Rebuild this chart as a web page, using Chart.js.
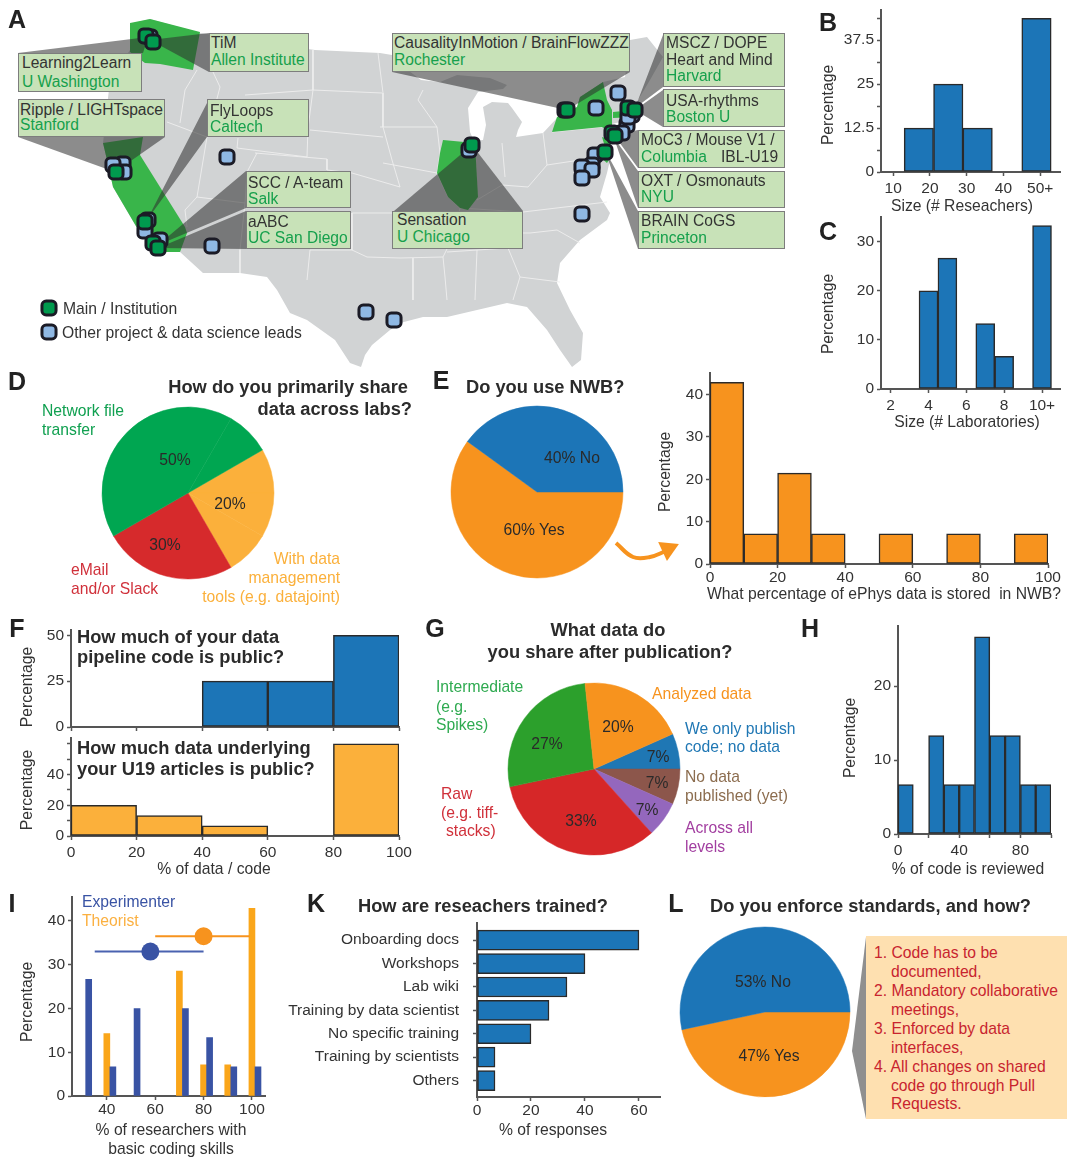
<!DOCTYPE html>
<html>
<head>
<meta charset="utf-8">
<title>U19 survey</title>
<script src="https://cdn.jsdelivr.net/npm/chart.js@4/dist/chart.umd.min.js"></script>
<style>
  html, body { margin: 0; padding: 0; background: #fff; }
  #page { position: relative; width: 1080px; height: 1171px; overflow: hidden; font-family: "Liberation Sans", Arial, sans-serif; filter: blur(0.35px); }
  #page canvas { position: absolute; }
  .t { position: absolute; white-space: pre; line-height: 1; color: #333; }
  .box { position: absolute; box-sizing: border-box; background: #c8e2b8; border: 1.5px solid #7d7d7d; }
</style>
</head>
<body>
<div id="page"></div>
<script>
// Panel B - team size in researchers
const researcherBins = [17, 25, 33, 41, 49];
const researcherPct = [12.5, 25, 12.5, 0, 43.75];
// Panel C - team size in laboratories
const labBins = [4, 5, 7, 8, 10];
const labPct = [20, 26.67, 13.33, 6.67, 33.33];
// Panel D - sharing across labs (slices as drawn, in degrees)
const shareSlices = [30, 30, 30, 90, 150, 30];
// Panel E - NWB use
const nwbPie = [60, 40];
const nwbBins = [5, 15, 25, 35, 45, 55, 65, 75, 85, 95];
const nwbPct = [42.86, 7.14, 21.43, 7.14, 0, 7.14, 0, 7.14, 0, 7.14];
// Panel F - public code and data
const publicBins = [50, 70, 90];
const publicCodePct = [25, 25, 50];
const publicDataBins = [10, 30, 50, 90];
const publicDataPct = [20, 13.33, 6.67, 60];
// Panel G - what is shared (only code, none yet, all levels, raw, intermediate, analyzed)
const sharedPct = [6.67, 6.67, 6.67, 33.33, 26.67, 20];
// Panel H - reviewed code
const reviewBins = [5, 15, 25, 35, 45, 55, 65, 75, 85, 95];
const reviewPct = [6.67, 0, 13.33, 6.67, 6.67, 26.67, 13.33, 13.33, 6.67, 6.67];
// Panel I - coding skills
const experimenterX = [32.5, 42.5, 52.5, 72.5, 82.5, 92.5, 102.5];
const experimenterPct = [26.67, 6.67, 20, 20, 13.33, 6.67, 6.67];
const theoristX = [40, 70, 80, 90, 100];
const theoristPct = [14.29, 28.57, 7.14, 7.14, 42.86];
const experimenterRange = [35, 80];
const experimenterMean = 58;
const theoristRange = [60, 99];
const theoristMean = 80;
// Panel K - training
const trainingNames = ['Onboarding docs', 'Workshops', 'Lab wiki', 'Training by data scientist', 'No specific training', 'Training by scientists', 'Others'];
const trainingPct = [60, 40, 33.33, 26.67, 20, 6.67, 6.67];
// Panel L - standards
const standardsPie = [46.67, 53.33];

// Panel A - map
const landOutline = [[130,24],[150,19],[200,33],[260,42],[315,50],[380,53],[392,55],[405,68],[421,80],[440,82],[457,75],[490,78],[507,85],[503,89],[478,92],[468,108],[470,132],[474,141],[483,140],[486,125],[483,107],[492,102],[508,103],[512,108],[522,122],[518,130],[516,137],[543,133],[557,118],[577,107],[580,97],[603,82],[625,77],[630,40],[647,37],[663,57],[650,80],[638,100],[640,112],[644,116],[628,120],[612,124],[612,137],[610,160],[607,173],[600,197],[610,213],[607,220],[580,240],[560,263],[557,283],[570,310],[583,333],[581,360],[572,367],[560,350],[547,330],[527,307],[507,303],[477,310],[447,317],[423,317],[400,323],[390,330],[372,345],[365,355],[361,367],[350,363],[335,340],[307,320],[290,313],[277,290],[267,277],[240,273],[203,273],[180,252],[157,252],[140,233],[113,187],[107,160],[103,143],[110,80],[130,50]];
const washington = [[130,23],[150,19],[200,32],[193,70],[160,64],[145,63],[130,52]];
const california = [[103,143],[143,137],[140,155],[185,227],[187,233],[180,252],[157,252],[140,233],[113,187],[107,160]];
const illinois = [[443,140],[475,143],[478,197],[468,210],[460,208],[448,197],[437,173],[440,153]];
const newYork = [[552,132],[557,117],[577,107],[580,97],[603,82],[607,100],[612,110],[612,127],[612,133],[602,127]];
const newJersey = [[602,137],[610,140],[612,155],[607,163],[600,157],[605,147]];
const connecticut = [[613,112],[633,110],[635,117],[613,118]];
const stateBorders = [
  [[197,70],[185,90],[180,123]], [[167,122],[207,137],[197,197],[185,210],[187,227]], [[213,72],[220,87],[207,137]],
  [[245,95],[313,90],[382,93]], [[313,50],[313,90],[308,128],[307,157]], [[378,53],[383,93],[383,127],[392,160],[400,187]],
  [[238,138],[237,148],[307,157]], [[310,130],[383,137]], [[257,153],[247,172],[245,203],[240,250],[240,273]],
  [[255,153],[327,159],[327,170],[352,173],[400,187]], [[197,197],[245,203]], [[352,213],[393,213],[455,213]],
  [[310,250],[307,280]], [[352,250],[367,257],[400,258],[443,257]], [[352,213],[352,250]], [[310,250],[352,250]],
  [[380,127],[437,127]], [[383,163],[437,173]], [[423,90],[418,100],[437,127],[440,153],[437,173],[448,197],[460,208],[455,233],[443,257],[445,277],[447,300]],
  [[475,143],[477,200]], [[502,143],[505,177]], [[477,200],[502,185],[528,187],[547,165]], [[543,133],[547,165]], [[547,165],[600,157]],
  [[552,132],[602,127]], [[523,212],[607,202]], [[460,208],[523,212]], [[447,252],[508,248]], [[530,233],[557,230],[580,243]],
  [[508,248],[520,277],[560,282]], [[477,250],[475,300]], [[393,248],[443,243]], [[413,258],[413,300]], [[520,277],[513,300]], [[455,233],[530,233]]
];
const wedges = [
  [[18,53],[148,37],[143,53]], [[150,40],[209,33],[209,72]], [[18,137],[165,137],[115,172]],
  [[207,103],[207,137],[147,220]], [[246,171],[246,208],[158,245]], [[246,211],[246,249],[158,248]],
  [[392,72],[630,72],[567,110]], [[394,211],[523,211],[472,145]], [[663,35],[663,87],[635,108]],
  [[663,90],[663,127],[635,110]], [[638,130],[638,168],[614,135]], [[638,171],[638,208],[614,138]],
  [[638,211],[638,249],[605,150]]
];
const otherLeads = [[150,37],[123,164],[113,165],[124,172],[148,220],[145,231],[160,240],[227,157],[212,246],[366,312],[394,320],[469,150],[565,110],[596,108],[618,93],[627,125],[632,115],[628,117],[622,133],[595,155],[592,165],[582,167],[592,170],[582,178],[582,214]];
const mainSites = [[146,36],[153,42],[116,172],[145,222],[153,243],[158,248],[472,145],[567,110],[628,108],[635,110],[612,133],[615,136],[605,152]];
const legendMain = [[49,308]];
const legendOther = [[49,332]];
// Arrow from pie E to its histogram, and wedge of panel L
const arrowCurve = [[616,543],[633,557],[650,557],[666,551]];
const arrowHead = [[668,549]];
const standardsWedge = [[866,937],[852,1051],[866,1119]];

const INK = '#333';
const AXIS = '#555';
const EDGE = '#2a2a2a';
const BLUE = '#1c75b7';
const ORANGE = '#f7931e';
const LIGHT_ORANGE = '#fbb03b';

Chart.defaults.font.family = '"Liberation Sans", Arial, sans-serif';
Chart.defaults.font.size = 15.5;
Chart.defaults.color = INK;
Chart.defaults.animation = false;
Chart.defaults.layout.autoPadding = false;
Chart.defaults.plugins.legend.display = false;
Chart.defaults.plugins.tooltip.enabled = false;

const page = document.getElementById('page');

function addCanvas(left, top, width, height) {
  const canvas = document.createElement('canvas');
  canvas.width = width;
  canvas.height = height;
  canvas.style.left = left + 'px';
  canvas.style.top = top + 'px';
  page.appendChild(canvas);
  return canvas;
}

// y is the vertical centre of the text; align is left, right or center
function text(x, y, str, opts = {}) {
  const el = document.createElement('div');
  el.className = 't';
  el.textContent = str;
  el.style.left = x + 'px';
  el.style.top = y + 'px';
  el.style.fontSize = (opts.size || 15.7) + 'px';
  el.style.color = opts.color || INK;
  if (opts.bold) el.style.fontWeight = 'bold';
  let shift = opts.align === 'right' ? '-100%' : opts.align === 'center' ? '-50%' : '0';
  el.style.transform = `translate(${shift}, -50%)`;
  page.appendChild(el);
}

const panel = (x, y, str) => text(x, y, str, { size: 25, bold: true, color: '#222', align: 'center' });
const title = (x, y, str, align) => text(x, y, str, { size: 18.3, bold: true, color: '#2b2b2b', align });

// fixed even box so the rotation lands on whole pixels
function ylabel(x, y) {
  const el = document.createElement('div');
  el.className = 't';
  el.textContent = 'Percentage';
  el.style.cssText += `left:${x - 50}px;top:${y - 10}px;width:100px;height:20px;line-height:20px;text-align:center;font-size:15.7px;transform:rotate(-90deg);`;
  page.appendChild(el);
}

function pie(cx, cy, r, values, colors, rotation) {
  new Chart(addCanvas(cx - r - 1, cy - r - 1, 2 * r + 2, 2 * r + 2), {
    type: 'pie',
    data: { datasets: [{ data: values, backgroundColor: colors, borderColor: colors, borderWidth: 0.5 }] },
    options: { responsive: false, rotation, radius: r, layout: { padding: 0 } }
  });
}

// Linear axis that shows only the ticks it is given
function axis(a, fit) {
  return {
    type: 'linear', min: a.min, max: a.max, reverse: !!a.reverse, offset: false,
    afterBuildTicks: s => { s.ticks = a.ticks.map(v => ({ value: v })); },
    afterFit: fit,
    grid: { drawOnChartArea: false, offset: false, tickLength: 4, tickColor: AXIS, tickWidth: 1.5 },
    border: { display: true, color: AXIS, width: 2 },
    ticks: { autoSkip: false, maxRotation: 0, padding: a.padding ?? 3, color: INK, callback: a.label || (v => v) }
  };
}

// box holds the page position of the plot area
function plot(box, datasets, xa, ya, margin = 44) {
  const top = 12, right = 24, bottom = 28;
  const canvas = addCanvas(box[0] - margin, box[1] - top, box[2] - box[0] + margin + right, box[3] - box[1] + top + bottom);
  return new Chart(canvas, {
    type: 'bar',
    data: { datasets },
    options: {
      responsive: false,
      indexAxis: xa.horizontal ? 'y' : 'x',
      layout: { padding: { top, right } },
      scales: {
        x: axis(xa, s => { s.height = bottom; }),
        y: axis(ya, s => { s.width = margin; })
      }
    }
  });
}

const xy = (xs, ys) => xs.map((x, i) => ({ x, y: ys[i] }));

function histogram(bins, values, color) {
  return [{ data: xy(bins, values), backgroundColor: color, borderColor: EDGE, borderWidth: 1.5, borderSkipped: false, barPercentage: 1, categoryPercentage: 1 }];
}

// ---- Panel A and the freehand bits, all on one chart with a page-sized scale
function polygon(points, color) {
  return { data: points.map(([x, y]) => ({ x, y })), showLine: true, fill: 'shape', backgroundColor: color, borderWidth: 0, pointRadius: 0, tension: 0 };
}
function polyline(points, color, width, tension = 0) {
  return { data: points.map(([x, y]) => ({ x, y })), showLine: true, fill: false, borderColor: color, borderWidth: width, pointRadius: 0, tension };
}
function markers(points, color) {
  return { data: points.map(([x, y]) => ({ x, y })), pointStyle: 'rectRounded', pointRadius: 8.2, backgroundColor: color, borderColor: '#1b1b26', borderWidth: 3 };
}

const GREEN_STATE = '#39b54a';
const layers = [
  polygon(landOutline, '#d1d3d4'),
  ...stateBorders.map(line => polyline(line, '#eeeeee', 0.9)),
  ...[washington, california, illinois, newYork, newJersey, connecticut].map(s => polygon(s, GREEN_STATE)),
  ...wedges.map(w => polygon(w, 'rgba(45,45,45,0.55)')),
  markers(otherLeads, '#8fb8e4'),
  markers(mainSites, '#009a4e'),
  markers(legendMain, '#009a4e'),
  markers(legendOther, '#8fb8e4'),
  polyline(arrowCurve, ORANGE, 4, 0.4),
  { data: arrowHead.map(([x, y]) => ({ x, y })), pointStyle: 'triangle', pointRadius: 12, rotation: 65, backgroundColor: ORANGE, borderWidth: 0 },
  polygon(standardsWedge, '#8f8f8f')
];

new Chart(addCanvas(0, 0, 1080, 1171), {
  type: 'scatter',
  data: { datasets: layers.reverse() },
  options: {
    responsive: false,
    layout: { padding: 0 },
    scales: {
      x: { type: 'linear', min: 0, max: 1080, display: false },
      y: { type: 'linear', min: 0, max: 1171, reverse: true, display: false }
    }
  }
});

function callout(left, top, right, bottom, textX, rows) {
  const el = document.createElement('div');
  el.className = 'box';
  el.style.left = left + 'px';
  el.style.top = top + 'px';
  el.style.width = (right - left) + 'px';
  el.style.height = (bottom - top) + 'px';
  page.appendChild(el);
  rows.forEach(([y, str, isInstitute]) => text(textX, y, str, { size: 15.6, color: isInstitute ? '#16a04c' : '#333' }));
}

callout(18, 53, 142, 92, 22, [[63, 'Learning2Learn'], [82, 'U Washington', 1]]);
callout(18, 99, 165, 137, 20, [[110, 'Ripple / LIGHTspace'], [125, 'Stanford', 1]]);
callout(209, 33, 309, 72, 211, [[43, 'TiM'], [60, 'Allen Institute', 1]]);
callout(207, 99, 309, 137, 210, [[111, 'FlyLoops'], [127, 'Caltech', 1]]);
callout(246, 171, 351, 208, 248, [[183, 'SCC / A-team'], [199, 'Salk', 1]]);
callout(246, 211, 351, 249, 248, [[222, 'aABC'], [238, 'UC San Diego', 1]]);
callout(392, 33, 630, 72, 394, [[43, 'CausalityInMotion / BrainFlowZZZ'], [60, 'Rochester', 1]]);
callout(392, 211, 523, 249, 397, [[220, 'Sensation'], [237, 'U Chicago', 1]]);
callout(663, 33, 785, 87, 666, [[43, 'MSCZ / DOPE'], [60, 'Heart and Mind'], [76, 'Harvard', 1]]);
callout(663, 89, 785, 127, 666, [[101, 'USA-rhythms'], [117, 'Boston U', 1]]);
callout(638, 130, 785, 168, 641, [[140, 'MoC3 / Mouse V1 /'], [157, 'Columbia', 1]]);
text(721, 157, 'IBL-U19', { size: 15.6 });
callout(638, 171, 785, 208, 641, [[181, 'OXT / Osmonauts'], [197, 'NYU', 1]]);
callout(638, 211, 785, 249, 641, [[221, 'BRAIN CoGS'], [238, 'Princeton', 1]]);
panel(17, 19, 'A');
text(63, 309, 'Main / Institution');
text(62, 333, 'Other project & data science leads');

// ---- Panel B
panel(828, 22, 'B');
plot([881, 10, 1060, 172], histogram(researcherBins, researcherPct, BLUE),
  { min: 6.7, max: 55.4, ticks: [10, 20, 30, 40, 50], label: v => (v === 50 ? '50+' : v) },
  { min: 0, max: 46, ticks: [0, 6.25, 12.5, 18.75, 25, 31.25, 37.5, 43.75], label: v => (v % 12.5 === 0 ? v : '') });
ylabel(828, 105);
text(962, 206, 'Size (# Reseachers)', { align: 'center' });

// ---- Panel C
panel(828, 231, 'C');
plot([881, 217, 1060, 389], histogram(labBins, labPct, BLUE),
  { min: 1.49, max: 10.95, ticks: [2, 4, 6, 8, 10], label: v => (v === 10 ? '10+' : v) },
  { min: 0, max: 35, ticks: [0, 10, 20, 30] });
ylabel(828, 314);
text(967, 422, 'Size (# Laboratories)', { align: 'center' });

// ---- Panel D
panel(17, 381, 'D');
title(408, 387, 'How do you primarily share', 'right');
title(412, 409, 'data across labs?', 'right');
pie(188, 493, 86, shareSlices, [LIGHT_ORANGE, LIGHT_ORANGE, LIGHT_ORANGE, '#d62a2c', '#00a651', '#00a651'], 60);
[['50%', 175, 460], ['20%', 230, 504], ['30%', 165, 545]].forEach(([s, x, y]) => text(x, y, s, { align: 'center', color: '#2a2a2a' }));
text(42, 411, 'Network file', { color: '#10a050' });
text(42, 430, 'transfer', { color: '#10a050' });
text(71, 570, 'eMail', { color: '#d0303a' });
text(71, 589, 'and/or Slack', { color: '#d0303a' });
text(340, 559, 'With data', { color: LIGHT_ORANGE, align: 'right' });
text(340, 578, 'management', { color: LIGHT_ORANGE, align: 'right' });
text(340, 597, 'tools (e.g. datajoint)', { color: LIGHT_ORANGE, align: 'right' });

// ---- Panel E
panel(441, 380, 'E');
title(466, 387, 'Do you use NWB?');
pie(537, 492, 86, nwbPie, [ORANGE, BLUE], 90);
text(572, 458, '40% No', { align: 'center', color: '#2a2a2a' });
text(534, 530, '60% Yes', { align: 'center', color: '#2a2a2a' });
plot([710, 373, 1048, 564], histogram(nwbBins, nwbPct, ORANGE),
  { min: 0, max: 100, ticks: [0, 20, 40, 60, 80, 100], padding: 0 },
  { min: 0, max: 45, ticks: [0, 10, 20, 30, 40] });
ylabel(665, 472);
text(707, 594, 'What percentage of ePhys data is stored  in NWB?');

// ---- Panel F
panel(17, 628, 'F');
plot([71, 630, 399, 727], histogram(publicBins, publicCodePct, BLUE),
  { min: 0, max: 100, ticks: [0, 20, 40, 60, 80, 100], label: () => '' },
  { min: 0, max: 52.7, ticks: [0, 25, 50] });
plot([71, 738, 399, 836], histogram(publicDataBins, publicDataPct, LIGHT_ORANGE),
  { min: 0, max: 100, ticks: [0, 20, 40, 60, 80, 100] },
  { min: 0, max: 63.6, ticks: [0, 10, 20, 30, 40, 50, 60], label: v => (v <= 40 && v % 20 === 0 ? v : '') });
title(77, 637, 'How much of your data');
title(77, 657, 'pipeline code is public?');
title(77, 748, 'How much data underlying');
title(77, 769, 'your U19 articles is public?');
ylabel(27, 687);
ylabel(27, 790);
text(214, 869, '% of data / code', { align: 'center' });

// ---- Panel G
panel(435, 628, 'G');
title(608, 630, 'What data do', 'center');
title(610, 652, 'you share after publication?', 'center');
pie(594, 769, 86, sharedPct, ['#1f77b4', '#8c564b', '#9467bd', '#d62728', '#2ca02c', ORANGE], 66);
[['20%', 618, 727], ['27%', 547, 744], ['7%', 658, 757], ['7%', 657, 783], ['7%', 647, 810], ['33%', 581, 821]]
  .forEach(([s, x, y]) => text(x, y, s, { align: 'center', color: '#2a2a2a' }));
[[436, 687, 'Intermediate'], [436, 707, '(e.g.'], [436, 725, 'Spikes)']].forEach(([x, y, s]) => text(x, y, s, { color: '#2eaa50' }));
text(652, 694, 'Analyzed data', { color: ORANGE });
text(685, 729, 'We only publish', { color: '#1f77b4' });
text(685, 747, 'code; no data', { color: '#1f77b4' });
text(685, 777, 'No data', { color: '#8c6d4f' });
text(685, 796, 'published (yet)', { color: '#8c6d4f' });
text(685, 828, 'Across all', { color: '#a23ea0' });
text(685, 847, 'levels', { color: '#a23ea0' });
[[441, 794, 'Raw'], [441, 813, '(e.g. tiff-'], [446, 831, 'stacks)']].forEach(([x, y, s]) => text(x, y, s, { color: '#d0303a' }));

// ---- Panel H
panel(810, 628, 'H');
plot([898, 626, 1051, 834], histogram(reviewBins, reviewPct, BLUE),
  { min: 0, max: 100, ticks: [0, 20, 40, 60, 80, 100], label: v => (v % 40 === 0 && v < 100 ? v : '') },
  { min: 0, max: 28.1, ticks: [0, 10, 20] });
ylabel(850, 738);
text(968, 869, '% of code is reviewed', { align: 'center' });

// ---- Panel I
panel(12, 903, 'I');
const skillBars = opts => ({ barThickness: 6, grouped: false, order: 2, ...opts });
plot([72, 897, 265, 1096], [
  { type: 'line', data: xy(theoristRange, [36.5, 36.5]), borderColor: ORANGE, borderWidth: 2, pointRadius: 0, order: 1 },
  { type: 'line', data: xy(experimenterRange, [33, 33]), borderColor: '#4a62b0', borderWidth: 2, pointRadius: 0, order: 1 },
  { type: 'line', data: xy([theoristMean], [36.5]), pointRadius: 9, backgroundColor: ORANGE, borderWidth: 0, order: 0 },
  { type: 'line', data: xy([experimenterMean], [33]), pointRadius: 9, backgroundColor: '#3953a4', borderWidth: 0, order: 0 },
  skillBars({ data: xy(experimenterX, experimenterPct), backgroundColor: '#3953a4' }),
  skillBars({ data: xy(theoristX, theoristPct), backgroundColor: '#faa61a' })
],
  { min: 25.6, max: 105.4, ticks: [40, 60, 80, 100], padding: 0 },
  { min: 0, max: 45.4, ticks: [0, 10, 20, 30, 40] });
text(82, 902, 'Experimenter', { color: '#3953a4' });
text(82, 921, 'Theorist', { color: '#fbb040' });
ylabel(27, 1002);
text(171, 1130, '% of researchers with', { align: 'center' });
text(171, 1149, 'basic coding skills', { align: 'center' });

// ---- Panel K (the long labels push the plot down about 10px, hence the higher top)
panel(316, 903, 'K');
title(358, 906, 'How are reseachers trained?');
plot([477, 912, 660, 1097], [{
  data: trainingPct.map((v, i) => ({ x: v, y: i })), backgroundColor: BLUE, borderColor: EDGE, borderWidth: 1.5, borderSkipped: false, barThickness: 20
}],
  { horizontal: true, min: 0, max: 67.8, ticks: [0, 20, 40, 60], padding: 0 },
  { min: -0.72, max: 6.7, reverse: true, padding: 14, ticks: [0, 1, 2, 3, 4, 5, 6], label: v => trainingNames[v] }, 197);
text(553, 1130, '% of responses', { align: 'center' });

// ---- Panel L
panel(676, 903, 'L');
title(710, 906, 'Do you enforce standards, and how?');
pie(765, 1012, 85, standardsPie, [ORANGE, BLUE], 90);
text(763, 982, '53% No', { align: 'center', color: '#2a2a2a' });
text(769, 1056, '47% Yes', { align: 'center', color: '#2a2a2a' });
const note = document.createElement('div');
note.style.cssText = 'position:absolute;left:866px;top:936px;width:201px;height:183px;background:#fee0b0;';
page.appendChild(note);
[[874, 953, '1. Code has to be'], [891, 972, 'documented,'], [874, 991, '2. Mandatory collaborative'], [891, 1010, 'meetings,'],
 [874, 1029, '3. Enforced by data'], [891, 1048, 'interfaces,'], [874, 1067, '4. All changes on shared'], [891, 1086, 'code go through Pull'], [891, 1104, 'Requests.']]
  .forEach(([x, y, s]) => text(x, y, s, { color: '#c8242f' }));
</script>
</body>
</html>
